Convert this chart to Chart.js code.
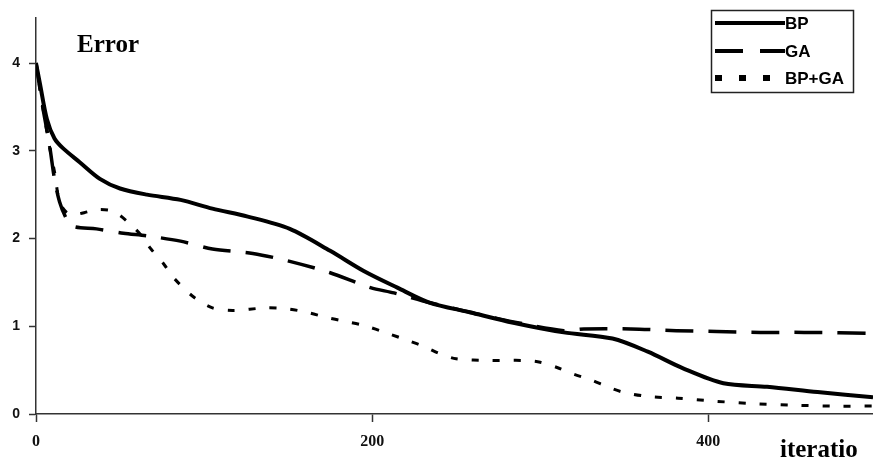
<!DOCTYPE html>
<html>
<head>
<meta charset="utf-8">
<script src="https://cdn.jsdelivr.net/npm/chart.js@4/dist/chart.umd.min.js"></script>
<style>
  html, body { margin: 0; padding: 0; background: #fff; }
  #wrap { width: 873px; height: 460px; position: relative; }
</style>
</head>
<body>
<div id="wrap"><canvas id="c" width="873" height="460"></canvas></div>
<script>
// Training error versus iteration for three training methods
const bpIter   = [0, 2.4, 6.5, 11, 16, 26, 38, 50, 66, 86, 105, 126, 151, 175, 195, 215, 234, 258, 284, 314, 343, 364, 385, 409, 435, 465, 498];
const bpError  = [4.0, 3.76, 3.36, 3.14, 3.03, 2.87, 2.68, 2.57, 2.50, 2.44, 2.34, 2.25, 2.11, 1.86, 1.63, 1.44, 1.27, 1.16, 1.04, 0.93, 0.86, 0.71, 0.52, 0.35, 0.31, 0.25, 0.19];

const gaIter   = [0, 2, 4, 8, 11, 14, 18, 22, 36, 52, 66, 86, 105, 129, 151, 175, 199, 213, 234, 258, 284, 314, 326, 354, 381, 405, 431, 457, 498];
const gaError  = [4.0, 3.75, 3.5, 3.07, 2.68, 2.42, 2.23, 2.14, 2.11, 2.06, 2.03, 1.97, 1.88, 1.83, 1.74, 1.61, 1.44, 1.38, 1.27, 1.16, 1.05, 0.95, 0.97, 0.97, 0.95, 0.94, 0.93, 0.93, 0.92];

const hybIter  = [0, 2, 4, 8, 11, 14, 18, 22, 32, 38, 46, 54, 62, 68, 76, 82, 94, 105, 117, 137, 149, 161, 173, 183, 195, 209, 221, 232, 240, 250, 270, 290, 300, 310, 319, 330, 340, 349, 364, 382, 401, 425, 451, 477, 498];
const hybError = [4.0, 3.75, 3.5, 3.05, 2.76, 2.42, 2.30, 2.27, 2.31, 2.33, 2.31, 2.20, 2.05, 1.89, 1.71, 1.55, 1.33, 1.21, 1.18, 1.21, 1.20, 1.16, 1.10, 1.06, 1.01, 0.92, 0.84, 0.76, 0.69, 0.63, 0.61, 0.61, 0.59, 0.53, 0.46, 0.39, 0.31, 0.25, 0.20, 0.18, 0.15, 0.12, 0.10, 0.09, 0.09];

const seriesNames = ['BP', 'GA', 'BP+GA'];
const xTicks = [0, 200, 400];
const yTicks = [0, 1, 2, 3, 4];

const toPoints = (xs, ys) => xs.map((x, i) => ({ x: x, y: ys[i] }));

const styles = [
  { width: 4,   dash: [] },
  { width: 3.5, dash: [28, 15] },
  { width: 3,   dash: [7, 14] }
];

const datasets = [
  toPoints(bpIter, bpError),
  toPoints(gaIter, gaError),
  toPoints(hybIter, hybError)
].map((pts, i) => ({
  label: seriesNames[i],
  data: pts,
  showLine: true,
  borderColor: '#000',
  backgroundColor: '#000',
  borderWidth: styles[i].width,
  borderDash: styles[i].dash,
  borderCapStyle: 'butt',
  pointRadius: 0,
  tension: 0.3,
  fill: false
}));

// Boxed legend and the free-standing axis captions
const annotations = {
  id: 'annotations',
  afterDraw(chart) {
    const ctx = chart.ctx;
    ctx.save();
    // captions
    ctx.fillStyle = '#000';
    ctx.textAlign = 'left';
    ctx.textBaseline = 'alphabetic';
    ctx.font = 'bold 25px "Liberation Serif", "Times New Roman", serif';
    ctx.fillText('Error', 77, 52);
    ctx.fillText('iteratio', 780, 457);

    // legend frame
    ctx.strokeStyle = '#222';
    ctx.lineWidth = 1.5;
    ctx.strokeRect(711.5, 10.5, 142, 82);
    const rows = [23, 51, 78];
    ctx.font = 'bold 17px "Liberation Sans", Arial, sans-serif';
    ctx.textBaseline = 'middle';
    chart.data.datasets.forEach((ds, i) => {
      const y = rows[i];
      ctx.beginPath();
      ctx.strokeStyle = '#000';
      ctx.lineWidth = i === 2 ? 6 : 4;
      ctx.lineCap = 'butt';
      ctx.setLineDash(i === 0 ? [] : (i === 1 ? [28, 17] : [7, 17]));
      ctx.moveTo(715, y);
      ctx.lineTo(785, y);
      ctx.stroke();
      ctx.setLineDash([]);
      ctx.fillStyle = '#000';
      ctx.fillText(ds.label, 785, y + 1);
    });
    ctx.restore();
  }
};

new Chart(document.getElementById('c'), {
  type: 'scatter',
  data: { datasets: datasets },
  plugins: [annotations],
  options: {
    responsive: false,
    animation: false,
    layout: { padding: { top: 15, right: 0, left: 0, bottom: 0 } },
    plugins: { legend: { display: false }, tooltip: { enabled: false } },
    scales: {
      x: {
        type: 'linear',
        min: 0,
        max: 498,
        afterBuildTicks(scale) { scale.ticks = xTicks.map(v => ({ value: v })); },
        afterFit(scale) { scale.height = 46; },
        ticks: {
          includeBounds: false,
          padding: 10,
          color: '#111',
          maxRotation: 0,
          font: { family: '"Liberation Serif", "Times New Roman", serif', weight: 'bold', size: 16 }
        },
        grid: { drawOnChartArea: false, drawTicks: true, tickLength: 8, color: '#333', tickWidth: 1.5 },
        border: { display: true, color: '#333', width: 1.5 }
      },
      y: {
        type: 'linear',
        min: 0,
        max: 4.52,
        afterBuildTicks(scale) { scale.ticks = yTicks.map(v => ({ value: v })); },
        afterFit(scale) { scale.width = 36; },
        ticks: {
          includeBounds: false,
          padding: 9,
          color: '#111',
          font: { family: '"Liberation Sans", Arial, sans-serif', weight: 'bold', size: 14 }
        },
        grid: { drawOnChartArea: false, drawTicks: true, tickLength: 7, color: '#333', tickWidth: 1.5 },
        border: { display: true, color: '#333', width: 1.5 }
      }
    }
  }
});
</script>
</body>
</html>
